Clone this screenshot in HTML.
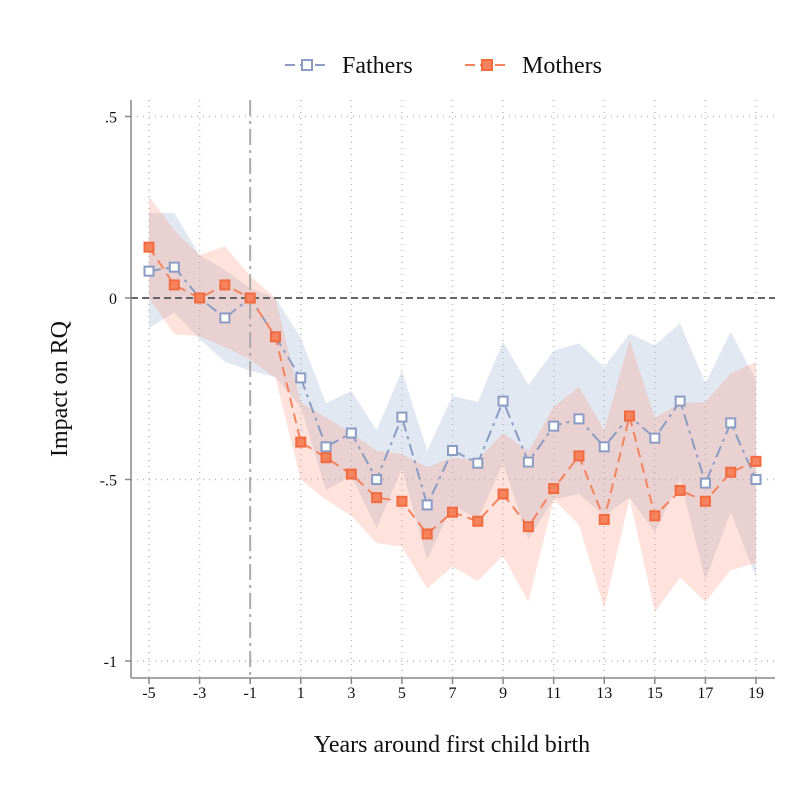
<!DOCTYPE html>
<html><head><meta charset="utf-8"><style>
body{margin:0;background:#fff}
svg text{font-family:"Liberation Serif",serif;fill:#111}
</style></head><body>
<svg id="chart" width="802" height="802" viewBox="0 0 802 802" xmlns="http://www.w3.org/2000/svg">
<rect width="802" height="802" fill="#fff"/>
<g id="grid"></g>
<g id="bands"></g>
<g id="refs"></g>
<g id="series"></g>
<g id="axes"></g>
<g>
  <g>
    <line x1="285" y1="65" x2="330" y2="65" stroke="#8a9cc4" stroke-width="2" stroke-dasharray="10,5"/>
    <rect x="302" y="60" width="10" height="10" fill="#fff" stroke="#8a9cc4" stroke-width="2"/>
    <text x="342" y="73" font-size="24">Fathers</text>
  </g>
  <g>
    <line x1="465" y1="65" x2="510" y2="65" stroke="#f4835e" stroke-width="2" stroke-dasharray="10,5"/>
    <rect x="482" y="60" width="10" height="10" fill="#f4835e" stroke="#f26a3f" stroke-width="2"/>
    <text x="522" y="73" font-size="24">Mothers</text>
  </g>
</g>
<text x="452" y="752" font-size="24" text-anchor="middle">Years around first child birth</text>
<text x="0" y="0" font-size="24" text-anchor="middle" transform="translate(67,389) rotate(-90)">Impact on RQ</text>
</svg>
<script>
const years=[-5,-4,-3,-2,-1,0,1,2,3,4,5,6,7,8,9,10,11,12,13,14,15,16,17,18,19];
const fathers=[0.074,0.085,0,-0.055,0,-0.107,-0.22,-0.41,-0.372,-0.5,-0.328,-0.57,-0.42,-0.455,-0.284,-0.452,-0.353,-0.333,-0.41,-0.325,-0.386,-0.284,-0.51,-0.344,-0.5];
const fathersHi=[0.234,0.234,0.118,0.077,0.027,0,-0.11,-0.29,-0.256,-0.364,-0.2,-0.42,-0.27,-0.286,-0.12,-0.24,-0.145,-0.125,-0.19,-0.098,-0.13,-0.07,-0.235,-0.093,-0.226];
const fathersLo=[-0.083,-0.04,-0.113,-0.176,-0.2,-0.218,-0.3,-0.53,-0.49,-0.634,-0.47,-0.72,-0.57,-0.61,-0.455,-0.665,-0.555,-0.54,-0.6,-0.55,-0.645,-0.5,-0.777,-0.59,-0.77];
const mothers=[0.14,0.036,0,0.036,0,-0.107,-0.397,-0.44,-0.485,-0.55,-0.56,-0.65,-0.59,-0.615,-0.54,-0.63,-0.525,-0.435,-0.61,-0.325,-0.6,-0.53,-0.56,-0.48,-0.45];
const mothersHi=[0.28,0.187,0.118,0.143,0.06,0,-0.287,-0.33,-0.372,-0.42,-0.43,-0.466,-0.44,-0.445,-0.372,-0.423,-0.3,-0.245,-0.364,-0.116,-0.33,-0.29,-0.287,-0.207,-0.176];
const mothersLo=[0,-0.1,-0.105,-0.135,-0.17,-0.22,-0.5,-0.556,-0.6,-0.675,-0.685,-0.8,-0.74,-0.78,-0.71,-0.837,-0.556,-0.625,-0.855,-0.553,-0.865,-0.77,-0.837,-0.75,-0.73];
const xTicks=[-5,-3,-1,1,3,5,7,9,11,13,15,17,19];
const yTicks=[0.5,0,-0.5,-1];
const yTickLabels=[".5","0","-.5","-1"];

const NS="http://www.w3.org/2000/svg";
const X=v=>149+(v+5)*(756-149)/24;
const Y=v=>298-v*363;
function mk(tag,attrs,parent){const e=document.createElementNS(NS,tag);for(const k in attrs)e.setAttribute(k,attrs[k]);parent.appendChild(e);return e;}
const grid=document.getElementById('grid'),bands=document.getElementById('bands'),refs=document.getElementById('refs'),series=document.getElementById('series'),axes=document.getElementById('axes');

xTicks.forEach(t=>{if(t===-1)return;const l=mk('line',{x1:X(t),x2:X(t),y1:100,y2:678,stroke:'#bbb','stroke-width':1.5,'stroke-dasharray':'1,5'},grid);

});
yTicks.forEach(t=>{if(t===0)return;const l=mk('line',{x1:131,x2:775,y1:Y(t),y2:Y(t),stroke:'#bbb','stroke-width':1.5,'stroke-dasharray':'1,5'},grid);

});

function band(hi,lo,fill,name){let pts=years.map((y,i)=>X(y)+','+Y(hi[i]));for(let i=years.length-1;i>=0;i--)pts.push(X(years[i])+','+Y(lo[i]));
const p=mk('polygon',{points:pts.join(' '),fill:fill},bands);

}
band(fathersHi,fathersLo,'rgba(160,178,208,0.3)','fathers-ci-band');
band(mothersHi,mothersLo,'rgba(250,140,110,0.25)','mothers-ci-band');

const r1=mk('line',{x1:131,x2:775,y1:Y(0),y2:Y(0),stroke:'#666','stroke-width':2,'stroke-dasharray':'7,4'},refs);


const r2=mk('line',{x1:X(-1),x2:X(-1),y1:100,y2:678,stroke:'#aaa','stroke-width':2,'stroke-dasharray':'16,5,3,5'},refs);



function line(vals,stroke,dash,mfill,mstroke,name){
const p=mk('polyline',{points:years.map((y,i)=>X(y)+','+Y(vals[i])).join(' '),fill:'none',stroke:stroke,'stroke-width':2,'stroke-dasharray':dash},series);


years.forEach((y,i)=>{const m=mk('rect',{x:X(y)-4.5,y:Y(vals[i])-4.5,width:9,height:9,fill:mfill,stroke:mstroke,'stroke-width':2},series);

});}
line(fathers,'#8a9cc4','12,5,3,5','#fff','#8a9cc4','fathers');
line(mothers,'#f4835e','10,6','#f4835e','#f26a3f','mothers');

const ax=mk('line',{x1:131,x2:131,y1:100,y2:678,stroke:'#888','stroke-width':1.5},axes);


const bx=mk('line',{x1:131,x2:775,y1:678,y2:678,stroke:'#888','stroke-width':1.5},axes);


xTicks.forEach(t=>{const l=mk('line',{x1:X(t),x2:X(t),y1:678,y2:684,stroke:'#888','stroke-width':1.5},axes);


const tx=mk('text',{x:X(t),y:698,'font-size':16,'text-anchor':'middle'},axes);tx.textContent=t;

});
yTicks.forEach((t,i)=>{const l=mk('line',{x1:125,x2:131,y1:Y(t),y2:Y(t),stroke:'#888','stroke-width':1.5},axes);


const tx=mk('text',{x:117,y:Y(t)+6,'font-size':16,'text-anchor':'end'},axes);tx.textContent=yTickLabels[i];

});
</script>
</body></html>
